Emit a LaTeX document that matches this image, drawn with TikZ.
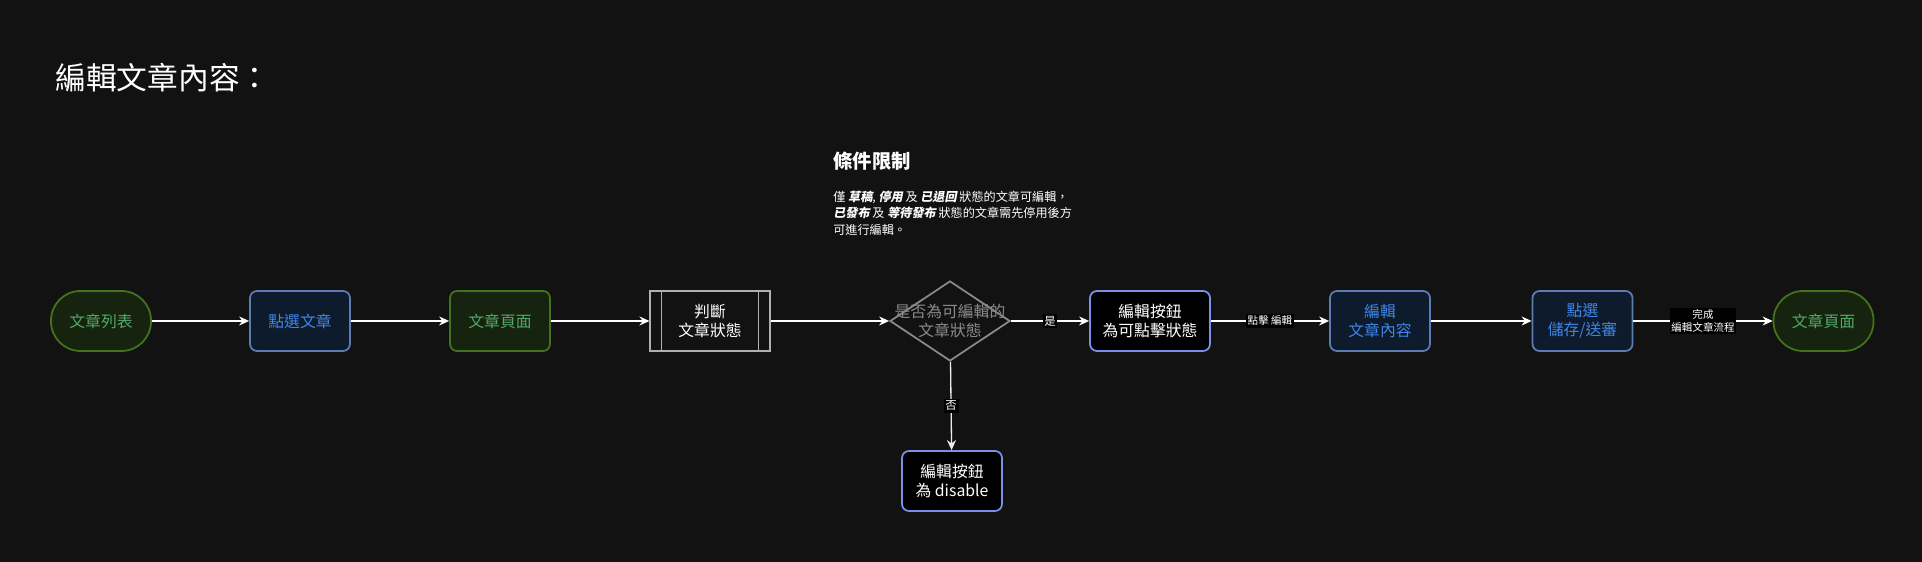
\documentclass[tikz,border=0pt]{standalone}
\usepackage{fontspec}
\setmainfont{Noto Sans CJK TC}
\newfontfamily\slantfont{Noto Sans CJK TC}[FakeSlant=0.2]
\usepackage{xcolor}
\usepackage{tikz}
\usetikzlibrary{shapes.geometric, arrows.meta, positioning}
\definecolor{flowbg}{HTML}{121212}
\definecolor{flowgreen}{HTML}{43731F}
\definecolor{flowgreenbg}{HTML}{16230F}
\definecolor{flowgreentext}{HTML}{52A968}
\definecolor{flowblue}{HTML}{5B7DB1}
\definecolor{flowbluebg}{HTML}{0E1B2D}
\definecolor{flowbluetext}{HTML}{3F86E6}
\definecolor{flowgray}{HTML}{B0B0B0}
\definecolor{flowdim}{HTML}{8A8A8A}
\definecolor{btnedge}{HTML}{7D8FE8}
\newcommand{\stress}[1]{{\slantfont\bfseries #1}}

\begin{document}
\begin{tikzpicture}[
    box/.style={rectangle, rounded corners=4pt, line width=1pt, minimum width=20mm, minimum height=12mm, font=\fontsize{9}{11}\selectfont, align=center},
    terminal/.style={box, rounded corners=5.9mm, draw=flowgreen, fill=flowgreenbg, text=flowgreentext},
    greenbox/.style={box, draw=flowgreen, fill=flowgreenbg, text=flowgreentext},
    bluebox/.style={box, draw=flowblue, fill=flowbluebg, text=flowbluetext},
    btnbox/.style={box, draw=btnedge, fill=black, text=white, minimum width=#1},
    process/.style={box, rounded corners=0pt, line width=0.6pt, draw=flowgray, fill=flowbg, text=white, minimum width=24mm},
    decision/.style={diamond, line width=1pt, draw=flowdim, fill=flowbg, inner sep=0pt, minimum width=24mm, minimum height=16mm},
    arrow/.style={-{Stealth[length=2mm, width=1.8mm]}, line width=0.75pt, color=white},
    edgelabel/.style={fill=black, text=white, inner sep=1pt, align=center, font=\fontsize{6}{7}\selectfont}
]
\fill[flowbg] (0,0) rectangle (38.44,11.24);
\useasboundingbox (0,0) rectangle (38.44,11.24);

% Title
\node[anchor=west, text=white, inner sep=0pt, font=\fontsize{17.5}{20}\selectfont] (title) at (1.1,9.68) {編輯文章內容：};

% Conditions
\node[anchor=west, text=white, font=\bfseries\fontsize{11}{13}\selectfont, inner sep=0pt] (cond) at (16.66,8.02) {條件限制};
\node[anchor=north west, text=white, font=\fontsize{6.9}{9.3}\selectfont, align=left, inner sep=0pt] (rule) at (16.66,7.43)
  {僅 \stress{草稿}, \stress{停用} 及 \stress{已退回} 狀態的文章可編輯，\\
   \stress{已發布} 及 \stress{等待發布} 狀態的文章需先停用後方\\
   可進行編輯。};

% Main flow
\node[terminal] (list) at (2.02,4.82) {文章列表};
\node[bluebox] (pick) at (6.0,4.82) {點選文章};
\node[greenbox] (page) at (10.0,4.82) {文章頁面};
\node[process] (judge) at (14.2,4.82) {判斷\\文章狀態};
\draw[flowgray, line width=0.6pt] ([xshift=2.4mm]judge.north west) -- ([xshift=2.4mm]judge.south west);
\draw[flowgray, line width=0.6pt] ([xshift=-2.4mm]judge.north east) -- ([xshift=-2.4mm]judge.south east);
\node[decision, label={[text=flowdim, align=center, font=\fontsize{9}{11}\selectfont]center:是否為可編輯的\\文章狀態}] (check) at (19.0,4.82) {};
\node[btnbox=24mm] (enable) at (23.0,4.82) {編輯按鈕\\為可點擊狀態};
\node[bluebox] (edit) at (27.6,4.82) {編輯\\文章內容};
\node[bluebox] (save) at (31.65,4.82) {點選\\儲存/送審};
\node[terminal] (done) at (36.47,4.82) {文章頁面};

% No branch
\node[btnbox=20mm] (disable) at (19.04,1.62) {編輯按鈕\\為 disable};

\draw[arrow] (list) -- (pick);
\draw[arrow] (pick) -- (page);
\draw[arrow] (page) -- (judge);
\draw[arrow] (judge) -- (check);
\draw[arrow] (check) -- node[edgelabel, font=\fontsize{6.5}{7.5}\selectfont] {是} (enable);
\draw[arrow] (enable) -- node[edgelabel] {點擊 編輯} (edit);
\draw[arrow] (edit) -- (save);
\draw[arrow] (save) -- node[edgelabel] {完成\\編輯文章流程} (done);
\draw[arrow, color=white!85!flowdim] (check) -- node[edgelabel, font=\fontsize{6.5}{7.5}\selectfont] {否} (disable);

\end{tikzpicture}
\end{document}
